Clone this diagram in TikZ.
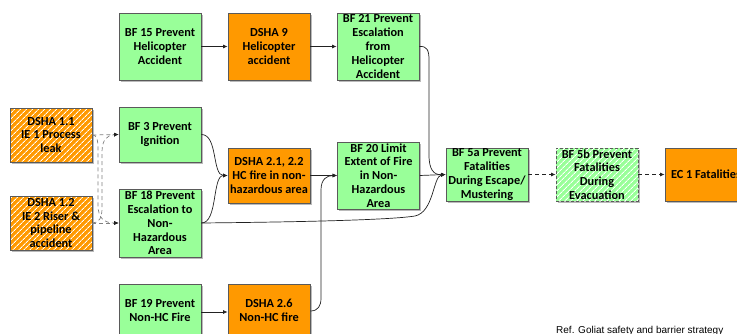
\documentclass[tikz,border=0pt]{standalone}
\usepackage{fontspec}
\setmainfont{Carlito}
\newfontfamily\reffont{Liberation Sans}
\usetikzlibrary{arrows.meta,patterns.meta,shadows}

\definecolor{bfgreen}{HTML}{99FF99}
\definecolor{dshaorange}{HTML}{FF9900}
\definecolor{boxline}{HTML}{5A5A5A}
\definecolor{linecol}{HTML}{222222}
\definecolor{dashgray}{HTML}{808080}

\newcommand\boxfont{\fontsize{12.3}{13.8}\selectfont\bfseries}

\tikzset{
  box/.style={draw=boxline, line width=0.8pt, minimum width=82pt, inner sep=0pt,
    align=center, font=\boxfont, text=black,
    drop shadow={shadow xshift=1.6pt, shadow yshift=-1.6pt, opacity=0.45, fill=black!60}},
  greenbox/.style={box, fill=bfgreen},
  orangebox/.style={box, fill=dshaorange},
  hatched/.style={postaction={pattern={Lines[angle=45,distance=4pt,line width=1pt]},
      pattern color=white}, postaction={draw=boxline, line width=0.8pt}},
  hatchorange/.style={orangebox, hatched},
  hatchgreen/.style={greenbox, hatched, dashed, dash pattern=on 3pt off 2pt,
      postaction={draw=boxline, line width=0.8pt, dash pattern=on 3pt off 2pt}},
  conn/.style={draw=linecol, line width=0.7pt, -{Latex[length=4.5pt,width=4pt]}},
  dconn/.style={conn, dash pattern=on 4pt off 3pt},
  gconn/.style={conn, draw=dashgray, dash pattern=on 4pt off 3pt,
      -{Latex[length=4.5pt,width=4pt,color=linecol]}},
}

\begin{document}
\begin{tikzpicture}[x=1pt,y=-1pt]
  \useasboundingbox (0,0) rectangle (737,334);
  \clip (0,0) rectangle (737,334);

  % helicopter branch
  \node[greenbox, minimum height=67pt] (bf15) at (160,46.5) {BF 15 Prevent\\Helicopter\\Accident};
  \node[orangebox, minimum height=67pt] (dsha9) at (269,46.5) {DSHA 9\\Helicopter\\accident};
  \node[greenbox, minimum height=67pt] (bf21) at (378,46.5) {BF 21 Prevent\\Escalation\\from\\Helicopter\\Accident};

  % initiating events
  \node[hatchorange, minimum height=54pt] (dsha11) at (51,135) {DSHA 1.1\\IE 1 Process\\leak};
  \node[hatchorange, minimum height=54pt] (dsha12) at (51,223) {DSHA 1.2\\IE 2 Riser \&\\pipeline\\accident};

  % barriers against ignition / escalation
  \node[greenbox, minimum height=55pt] (bf3) at (160,134.5) {BF 3 Prevent\\Ignition};
  \node[greenbox, minimum height=68pt] (bf18) at (160,223) {BF 18 Prevent\\Escalation to\\Non-\\Hazardous\\Area};
  \node[greenbox, minimum height=53pt] (bf19) at (160,310.5) {BF 19 Prevent\\Non-HC Fire};

  % fire hazards
  \node[orangebox, minimum height=55pt] (dsha21) at (269,175.5) {DSHA 2.1, 2.2\\HC fire in non-\\hazardous area};
  \node[orangebox, minimum height=53pt] (dsha26) at (269,310.5) {DSHA 2.6\\Non-HC fire};
  \node[greenbox, minimum height=67pt] (bf20) at (378.5,175.5) {BF 20 Limit\\Extent of Fire\\in Non-\\Hazardous\\Area};

  % fatalities chain
  \node[greenbox, minimum height=53pt] (bf5a) at (487,174.5) {BF 5a Prevent\\Fatalities\\During Escape/\\Mustering};
  \node[hatchgreen, minimum height=53pt] (bf5b) at (597,174.5) {BF 5b Prevent\\Fatalities\\During\\Evacuation};
  \node[orangebox, minimum height=53pt] (ec1) at (706,174.5) {EC 1 Fatalities};

  % connectors
  \draw[conn] (bf15) -- (dsha9);
  \draw[conn] (dsha9) -- (bf21);
  \draw[conn] (bf21.east) .. controls (427,46) and (429,50) .. (429,60)
      -- (429,155) .. controls (429,170) and (434,175) .. (bf5a.west);

  \draw[gconn] (dsha11.east) -- (bf3.west);
  \draw[gconn] (dsha12.east) -- (bf18.west);
  \draw[gconn] (dsha11.east) .. controls (97,135) and (98,140) .. (98,150)
      -- (98,205) .. controls (98,218) and (104,223) .. (bf18.west);
  \draw[gconn] (dsha12.east) .. controls (99,223) and (102,218) .. (102,208)
      -- (102,152) .. controls (102,140) and (107,135) .. (bf3.west);

  \draw[conn] (bf3.east) .. controls (218,134.5) and (212,175.5) .. (dsha21.west);
  \draw[conn] (bf18.east) .. controls (218,223) and (212,175.5) .. (dsha21.west);
  \draw[conn] (bf18.east) .. controls (300,222) and (390,220) .. (415,216)
      .. controls (434,212) and (433,176) .. (bf5a.west);

  \draw[conn] (dsha21) -- (bf20);
  \draw[conn] (bf19.east |- 0,312) -- (dsha26.west |- 0,312);
  \draw[conn] (dsha26.east |- 0,311) .. controls (318,311) and (321,306) .. (321,298)
      -- (321,190) .. controls (321,179) and (327,175.5) .. (bf20.west);
  \draw[conn] (bf20.east) -- (bf5a.west);

  \draw[dconn] (bf5a) -- (bf5b);
  \draw[dconn] (bf5b) -- (ec1);

  % source note
  \node[anchor=base west, inner sep=0pt, font=\reffont\fontsize{10}{12}\selectfont]
    (ref) at (556,333) {Ref. Goliat safety and barrier strategy};
\end{tikzpicture}
\end{document}
